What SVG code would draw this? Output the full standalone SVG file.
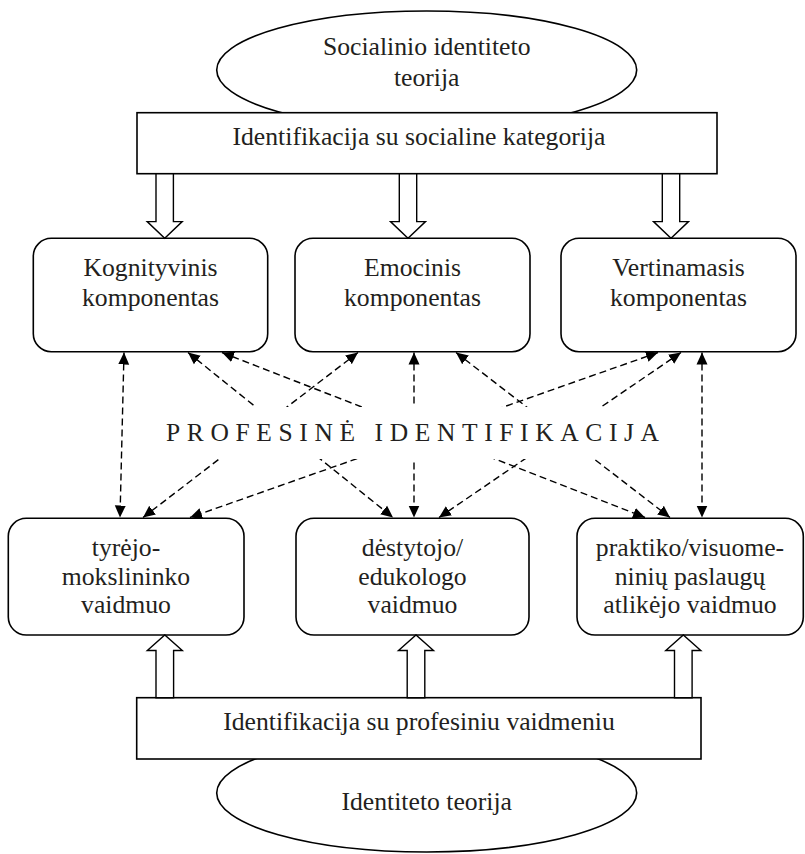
<svg xmlns="http://www.w3.org/2000/svg" width="805" height="854" viewBox="0 0 805 854">
  <style>
    .shape { fill: #ffffff; stroke: #000000; stroke-width: 1.6; }
    .block { fill: #ffffff; stroke: #000000; stroke-width: 1.4; stroke-linejoin: miter; }
    .dash { fill: none; stroke: #000000; stroke-width: 1.4; stroke-dasharray: 7 4; marker-start: url(#tip); marker-end: url(#tip); }
    .label { font-family: "Liberation Serif", "Times New Roman", serif; font-size: 25.7px; fill: #231f20; text-anchor: middle; }
    .banner { font-family: "Liberation Serif", "Times New Roman", serif; font-size: 25.5px; fill: #231f20; }
  </style>
  <defs>
    <marker id="tip" markerUnits="userSpaceOnUse" markerWidth="13" markerHeight="12" refX="12" refY="5.5" orient="auto-start-reverse" viewBox="0 0 13 11">
      <path d="M0,0 L12,5.5 L0,11 Z" fill="#000000"/>
    </marker>
  </defs>

  <rect width="805" height="854" fill="#ffffff"/>

  <!-- top: theory ellipse and social category bar -->
  <g id="social-identity-theory">
    <ellipse class="shape" cx="426.7" cy="70" rx="210" ry="59"/>
    <text class="label" x="426.7" y="55">Socialinio identiteto</text>
    <text class="label" x="426.7" y="86">teorija</text>
  </g>
  <g id="social-category">
    <rect class="shape" x="137" y="112.7" width="580" height="61"/>
    <text class="label" x="419" y="145">Identifikacija su socialine kategorija</text>
  </g>

  <!-- bottom: identity theory ellipse and professional role bar -->
  <g id="identity-theory">
    <ellipse class="shape" cx="426.7" cy="793" rx="210" ry="59"/>
    <text class="label" x="426.7" y="810">Identiteto teorija</text>
  </g>
  <g id="professional-role">
    <rect class="shape" x="136.7" y="697.7" width="564.3" height="61.3"/>
    <text class="label" x="419" y="730">Identifikacija su profesiniu vaidmeniu</text>
  </g>

  <!-- component boxes -->
  <g id="cognitive">
    <rect class="shape" x="33.3" y="238.3" width="234.4" height="113.4" rx="18"/>
    <text class="label" x="150.5" y="275.7">Kognityvinis</text>
    <text class="label" x="150.5" y="306">komponentas</text>
  </g>
  <g id="emotional">
    <rect class="shape" x="295" y="238.3" width="235" height="113.4" rx="18"/>
    <text class="label" x="412.5" y="275.7">Emocinis</text>
    <text class="label" x="412.5" y="306">komponentas</text>
  </g>
  <g id="evaluative">
    <rect class="shape" x="561" y="238.3" width="235" height="113.4" rx="18"/>
    <text class="label" x="678.5" y="275.7">Vertinamasis</text>
    <text class="label" x="678.5" y="306">komponentas</text>
  </g>

  <!-- role boxes -->
  <g id="researcher">
    <rect class="shape" x="8.3" y="518.3" width="235.7" height="116.7" rx="18"/>
    <text class="label" x="126" y="556">tyrėjo-</text>
    <text class="label" x="126" y="584.5">mokslininko</text>
    <text class="label" x="126" y="613">vaidmuo</text>
  </g>
  <g id="lecturer">
    <rect class="shape" x="296" y="518.3" width="233" height="116.7" rx="18"/>
    <text class="label" x="412.5" y="556">dėstytojo/</text>
    <text class="label" x="412.5" y="584.5">edukologo</text>
    <text class="label" x="412.5" y="613">vaidmuo</text>
  </g>
  <g id="practitioner">
    <rect class="shape" x="577" y="518.3" width="226.3" height="116.7" rx="18"/>
    <text class="label" x="690" y="556">praktiko/visuome-</text>
    <text class="label" x="690" y="584.5">ninių paslaugų</text>
    <text class="label" x="690" y="613">atlikėjo vaidmuo</text>
  </g>

  <!-- connectors -->
  <g id="connectors">
    <!-- hollow block arrows: category bar to components -->
    <polygon class="block" points="156,173.7 173.4,173.7 173.4,221.6 182.2,221.6 164.7,238.3 147.2,221.6 156,221.6"/>
    <polygon class="block" points="399.3,173.7 416.7,173.7 416.7,221.6 425.5,221.6 408,238.3 390.5,221.6 399.3,221.6"/>
    <polygon class="block" points="662.3,173.7 679.7,173.7 679.7,221.6 688.5,221.6 671,238.3 653.5,221.6 662.3,221.6"/>
    <!-- hollow block arrows: role bar to roles -->
    <polygon class="block" points="156,697.7 173.6,697.7 173.6,650.5 182.3,650.5 164.8,635 147.3,650.5 156,650.5"/>
    <polygon class="block" points="407.2,697.7 424.8,697.7 424.8,650.5 433.5,650.5 416,635 398.5,650.5 407.2,650.5"/>
    <polygon class="block" points="674.5,697.7 692.1,697.7 692.1,650.5 700.8,650.5 683.3,635 665.8,650.5 674.5,650.5"/>

    <!-- dashed two-way links between components and roles -->
    <line class="dash" x1="124" y1="352.5" x2="120" y2="517.5"/>
    <line class="dash" x1="188" y1="352.5" x2="393" y2="517.5"/>
    <line class="dash" x1="222" y1="352.5" x2="645" y2="517.5"/>
    <line class="dash" x1="358" y1="352.5" x2="143" y2="517.5"/>
    <line class="dash" x1="414" y1="352.5" x2="414" y2="517.5"/>
    <line class="dash" x1="456" y1="352.5" x2="670" y2="517.5"/>
    <line class="dash" x1="658" y1="352.5" x2="190" y2="517.5"/>
    <line class="dash" x1="681" y1="352.5" x2="439" y2="517.5"/>
    <line class="dash" x1="702" y1="352.5" x2="702" y2="517.5"/>
  </g>

  <!-- central caption over a clear band -->
  <g id="professional-identification">
    <rect x="135" y="407" width="555" height="52" fill="#ffffff"/>
    <text class="banner" x="166" y="440.5" textLength="493" lengthAdjust="spacing">PROFESINĖ IDENTIFIKACIJA</text>
  </g>
</svg>
